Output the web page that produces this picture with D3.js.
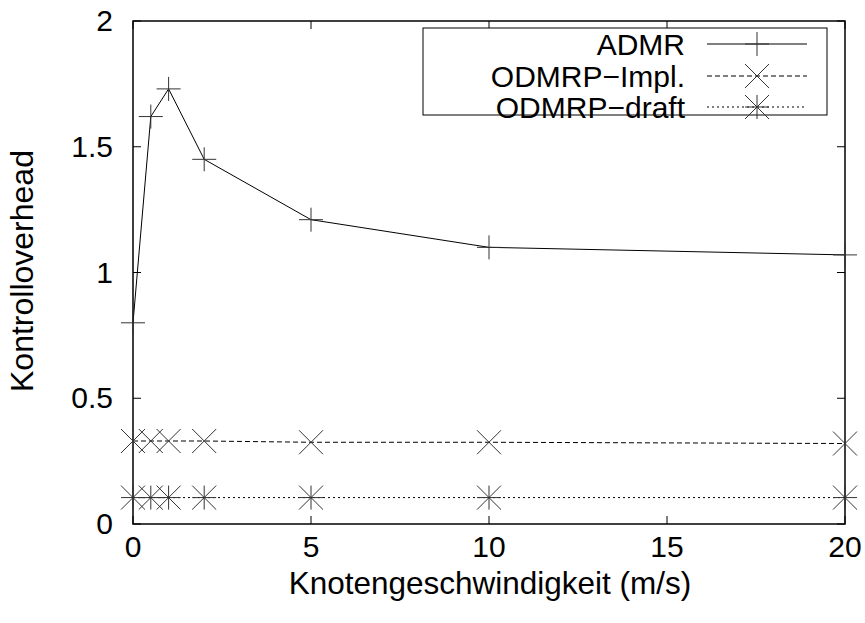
<!DOCTYPE html>
<html>
<head>
<meta charset="utf-8">
<script src="https://cdn.jsdelivr.net/npm/d3@7"></script>
<style>
  html, body { margin: 0; padding: 0; background: #fff; }
  svg { display: block; font-family: "Liberation Sans", Arial, Helvetica, sans-serif; }
</style>
</head>
<body>
<svg id="chart" width="865" height="623"></svg>
<script>
// Node speed (m/s) and control overhead per protocol
const speeds = [0, 0.5, 1, 2, 5, 10, 20];
const admrValues = [0.80, 1.62, 1.73, 1.45, 1.21, 1.10, 1.07];
const odmrpImplValues = [0.33, 0.33, 0.33, 0.33, 0.325, 0.325, 0.32];
const odmrpDraftValues = [0.105, 0.105, 0.105, 0.105, 0.105, 0.105, 0.105];

const xTicks = [0, 5, 10, 15, 20];
const yTicks = [0, 0.5, 1, 1.5, 2];

const seriesNames = ["ADMR", "ODMRP\u2212Impl.", "ODMRP\u2212draft"];

const svg = d3.select("#chart");
const plotLeft = 133, plotRight = 845, plotTop = 21, plotBottom = 524;
const fontSize = 30;
const titleSize = 31.5;
const tickLen = 8;

const x = d3.scaleLinear().domain([0, 20]).range([plotLeft, plotRight]);
const y = d3.scaleLinear().domain([0, 2]).range([plotBottom, plotTop]);

// Frame and mirrored inward ticks
const axes = svg.append("g").attr("stroke", "#000").attr("fill", "none");
axes.append("rect")
  .attr("x", plotLeft).attr("y", plotTop)
  .attr("width", plotRight - plotLeft).attr("height", plotBottom - plotTop)
  .attr("stroke-width", 1.5);

xTicks.forEach(t => {
  axes.append("line").attr("x1", x(t)).attr("x2", x(t)).attr("y1", plotBottom).attr("y2", plotBottom - tickLen).attr("stroke-width", 1);
  axes.append("line").attr("x1", x(t)).attr("x2", x(t)).attr("y1", plotTop).attr("y2", plotTop + tickLen).attr("stroke-width", 1);
});
yTicks.forEach(t => {
  axes.append("line").attr("x1", plotLeft).attr("x2", plotLeft + tickLen).attr("y1", y(t)).attr("y2", y(t)).attr("stroke-width", 1);
  axes.append("line").attr("x1", plotRight).attr("x2", plotRight - tickLen).attr("y1", y(t)).attr("y2", y(t)).attr("stroke-width", 1);
});

// Tick labels
svg.append("g").selectAll("text").data(xTicks).join("text")
  .attr("x", d => x(d)).attr("y", plotBottom + 33)
  .attr("text-anchor", "middle").attr("font-size", fontSize)
  .text(d => d);

svg.append("g").selectAll("text").data(yTicks).join("text")
  .attr("x", plotLeft - 20).attr("y", d => y(d) + 10)
  .attr("text-anchor", "end").attr("font-size", fontSize)
  .text(d => d);

// Axis titles
svg.append("text")
  .attr("x", 490).attr("y", 594)
  .attr("text-anchor", "middle").attr("font-size", titleSize)
  .text("Knotengeschwindigkeit (m/s)");

svg.append("text")
  .attr("transform", `translate(33, 271) rotate(-90)`)
  .attr("text-anchor", "middle").attr("font-size", 32)
  .text("Kontrolloverhead");

// Point symbols
const ms = 12;
function plus(g, cx, cy) {
  g.append("path").attr("d", `M${cx - ms},${cy}H${cx + ms}M${cx},${cy - ms}V${cy + ms}`);
}
function cross(g, cx, cy) {
  g.append("path").attr("d", `M${cx - ms},${cy - ms}L${cx + ms},${cy + ms}M${cx - ms},${cy + ms}L${cx + ms},${cy - ms}`);
}
function star(g, cx, cy) { plus(g, cx, cy); cross(g, cx, cy); }

const series = [
  { name: seriesNames[0], ys: admrValues, dash: null, sym: plus },
  { name: seriesNames[1], ys: odmrpImplValues, dash: "5,3", sym: cross },
  { name: seriesNames[2], ys: odmrpDraftValues, dash: "2,3", sym: star }
];

const line = d3.line().x(d => x(d[0])).y(d => y(d[1]));

series.forEach(s => {
  const pts = speeds.map((v, i) => [v, s.ys[i]]);
  svg.append("path")
    .attr("d", line(pts))
    .attr("fill", "none").attr("stroke", "#000").attr("stroke-width", 1)
    .attr("stroke-dasharray", s.dash);
  const g = svg.append("g").attr("stroke", "#333").attr("stroke-width", 1).attr("fill", "none");
  pts.forEach(p => s.sym(g, x(p[0]), y(p[1])));
});

// Legend
const legend = svg.append("g");
legend.append("rect")
  .attr("x", 423).attr("y", 28).attr("width", 404).attr("height", 87)
  .attr("fill", "#fff").attr("stroke", "#000").attr("stroke-width", 1);

const rowY = [44, 76, 107];
series.forEach((s, i) => {
  const ry = rowY[i];
  legend.append("text")
    .attr("x", 685).attr("y", ry + 11)
    .attr("text-anchor", "end").attr("font-size", fontSize)
    .text(s.name);
  legend.append("line")
    .attr("x1", 707).attr("x2", 807).attr("y1", ry).attr("y2", ry)
    .attr("stroke", "#000").attr("stroke-width", 1)
    .attr("stroke-dasharray", s.dash);
  const g = legend.append("g").attr("stroke", "#333").attr("stroke-width", 1).attr("fill", "none");
  s.sym(g, 757, ry);
});
</script>
</body>
</html>
